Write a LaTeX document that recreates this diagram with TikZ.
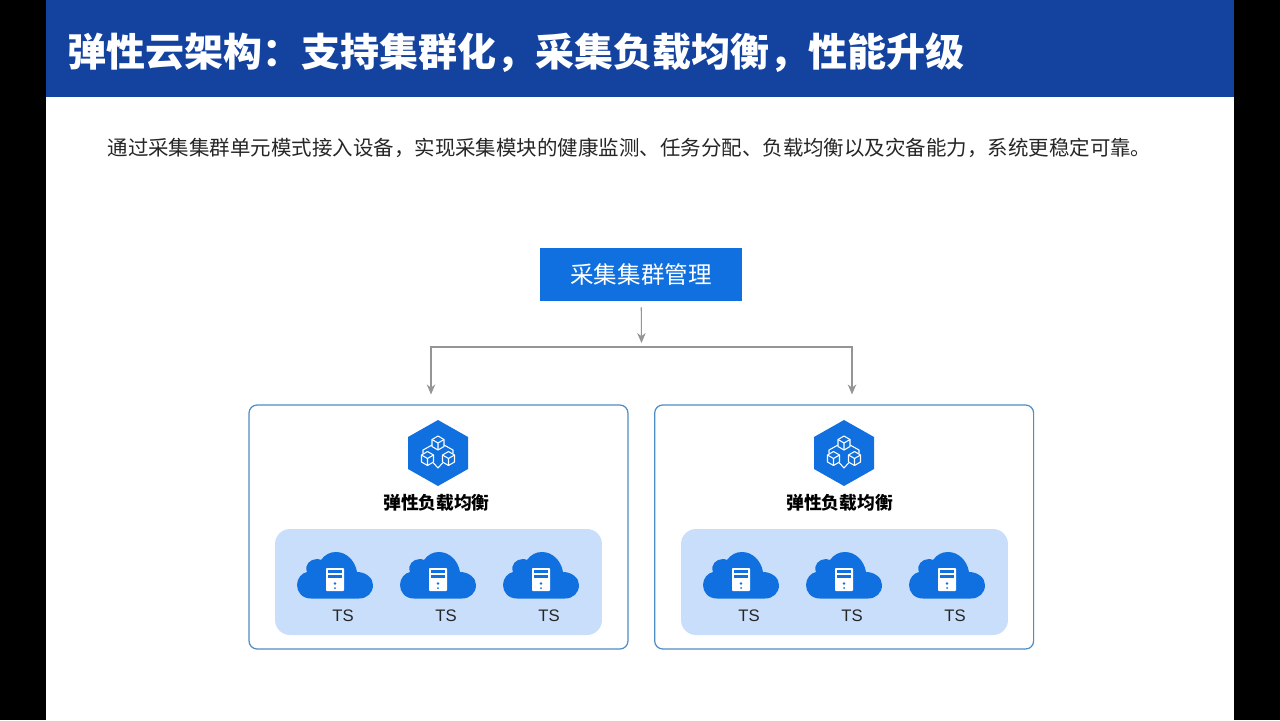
\documentclass[tikz,border=0pt]{standalone}
\usepackage{fontspec}
\setmainfont{Noto Sans CJK SC}
\newfontfamily\latinfont{Liberation Sans}
\usepackage{tikz}
\usetikzlibrary{arrows.meta, positioning}

\definecolor{titleblue}{HTML}{13429F}
\definecolor{mainblue}{HTML}{1070E0}
\definecolor{paleblue}{HTML}{C9DEFB}
\definecolor{panelline}{HTML}{4F8DC5}
\definecolor{arrowgray}{HTML}{959595}
\newcommand{\wcomma}{\symbol{"FF0C}}
\newcommand{\wcolon}{\symbol{"FF1A}}

\begin{document}
\begin{tikzpicture}[
	x=0.02cm, y=-0.02cm,
	title_text/.style={anchor=west, inner sep=0pt, text=white, font=\fontsize{22.2}{26}\selectfont\bfseries},
	intro_text/.style={inner sep=0pt, text=black!85, font=\fontsize{11.65}{14}\selectfont},
	manager/.style={fill=mainblue, minimum width=4.04cm, minimum height=1.06cm, inner sep=0pt, text=white, font=\fontsize{13.4}{16}\selectfont},
	panel/.style={draw=panelline, line width=0.7pt, fill=white, rounded corners=0.16cm, minimum width=7.58cm, minimum height=4.88cm, inner sep=0pt},
	ts_group/.style={fill=paleblue, rounded corners=0.3cm, minimum width=6.54cm, minimum height=2.12cm, inner sep=0pt},
	balance_text/.style={inner sep=0pt, text=black, font=\fontsize{10.1}{12}\selectfont\bfseries},
	ts_text/.style={inner sep=0pt, text=black!85, font=\fontsize{9.5}{11}\latinfont},
	arrow/.style={{Stealth[length=0.2cm, width=0.17cm]}-{Stealth[length=0.2cm, width=0.17cm]}, arrowgray, line width=0.6pt},
	down_arrow/.style={-{Stealth[length=0.2cm, width=0.17cm]}, arrowgray, line width=0.6pt},
	cube/.pic={
		\draw[white, line width=0.6pt, line join=round] (0,-7) -- (6,-3.5) -- (6,3.5) -- (0,7) -- (-6,3.5) -- (-6,-3.5) -- cycle;
		\draw[white, line width=0.6pt, line join=round] (-6,-3.5) -- (0,0) -- (6,-3.5) (0,0) -- (0,7);
	},
	hex_icon/.pic={
		\fill[mainblue] (0,-33) -- (30,-16) -- (30,16) -- (0,33) -- (-30,16) -- (-30,-16) -- cycle;
		\pic at (0,-10) {cube};
		\pic at (-10.5,5.5) {cube};
		\pic at (10.5,5.5) {cube};
		\draw[white, line width=0.6pt, line join=round] (-6,-8) -- (-15,-3) -- (-15,0.5);
		\draw[white, line width=0.6pt, line join=round] (6,-8) -- (15,-3) -- (15,0.5);
		\draw[white, line width=0.6pt, line join=round] (-4.5,10) -- (0,15) -- (4.5,10);
	},
	cloud_icon/.pic={
		\fill[mainblue] (-24,23.5) .. controls (-33,23.5) and (-38,17) .. (-38,10)
			.. controls (-38,3) and (-33,-2) .. (-28,-3)
			.. controls (-31,-10) and (-25,-16) .. (-18,-16)
			.. controls (-16.5,-16) and (-15,-15.5) .. (-14,-15)
			.. controls (-10,-20.5) and (-5,-23) .. (1,-23)
			.. controls (11,-23) and (20,-15) .. (22,-3)
			.. controls (31,-3) and (38,3) .. (38,10)
			.. controls (38,18) and (32,23.5) .. (24,23.5) -- cycle;
		\fill[white, rounded corners=0.5pt] (-9,-7) rectangle (9,16);
		\fill[mainblue] (-7,-5.5) rectangle (7,-2.5);
		\fill[mainblue] (-7,-0.5) rectangle (7,2.5);
		\fill[mainblue] (0,8.5) circle (1.3);
		\fill[mainblue] (0,13) circle (1);
		\node[ts_text] (-label) at (8,41) {TS};
	}
	]
	
	% --- background ---
	\useasboundingbox (0,0) rectangle (1280,720);
	\fill[black] (0,0) rectangle (1280,720);
	\fill[white] (46,0) rectangle (1234,720);
	\fill[titleblue] (46,0) rectangle (1234,97);
	
	\node[title_text] (title) at (67,53) {弹性云架构\wcolon 支持集群化\wcomma 采集负载均衡\wcomma 性能升级};
	\node[intro_text] (intro) at (629.5,148) {通过采集集群单元模式接入设备\wcomma 实现采集模块的健康监测、任务分配、负载均衡以及灾备能力\wcomma 系统更稳定可靠。};
	
	% --- nodes ---
	\node[manager] (manager) at (641,274.5) {采集集群管理};
	\node[panel] (left_panel) at (438.5,527) {};
	\node[panel] (right_panel) [right=0.51cm of left_panel] {};
	\node[ts_group] (left_group) at (438.5,582) {};
	\node[ts_group] (right_group) at (844.5,582) {};
	
	\pic at (438,453) {hex_icon};
	\pic at (844,453) {hex_icon};
	\node[balance_text] (left_balance) at (436.5,503) {弹性负载均衡};
	\node[balance_text] (right_balance) at (839.5,503) {弹性负载均衡};
	
	\pic (ts_a) at (335,575) {cloud_icon};
	\pic (ts_b) at (438,575) {cloud_icon};
	\pic (ts_c) at (541,575) {cloud_icon};
	\pic (ts_d) at (741,575) {cloud_icon};
	\pic (ts_e) at (844,575) {cloud_icon};
	\pic (ts_f) at (947,575) {cloud_icon};
	
	% --- connectors ---
	\coordinate (bar_left) at (431,347);
	\coordinate (bar_right) at (852,347);
	\coordinate (bar_mid) at (641.5,343);
	
	\draw[down_arrow, shorten <=0.12cm] (manager) -- (bar_mid);
	\draw[arrow, shorten <=0.2cm, shorten >=0.2cm] (bar_left |- left_panel.north) -- (bar_left) -- (bar_right) -- (bar_right |- right_panel.north);
	
\end{tikzpicture}
\end{document}
